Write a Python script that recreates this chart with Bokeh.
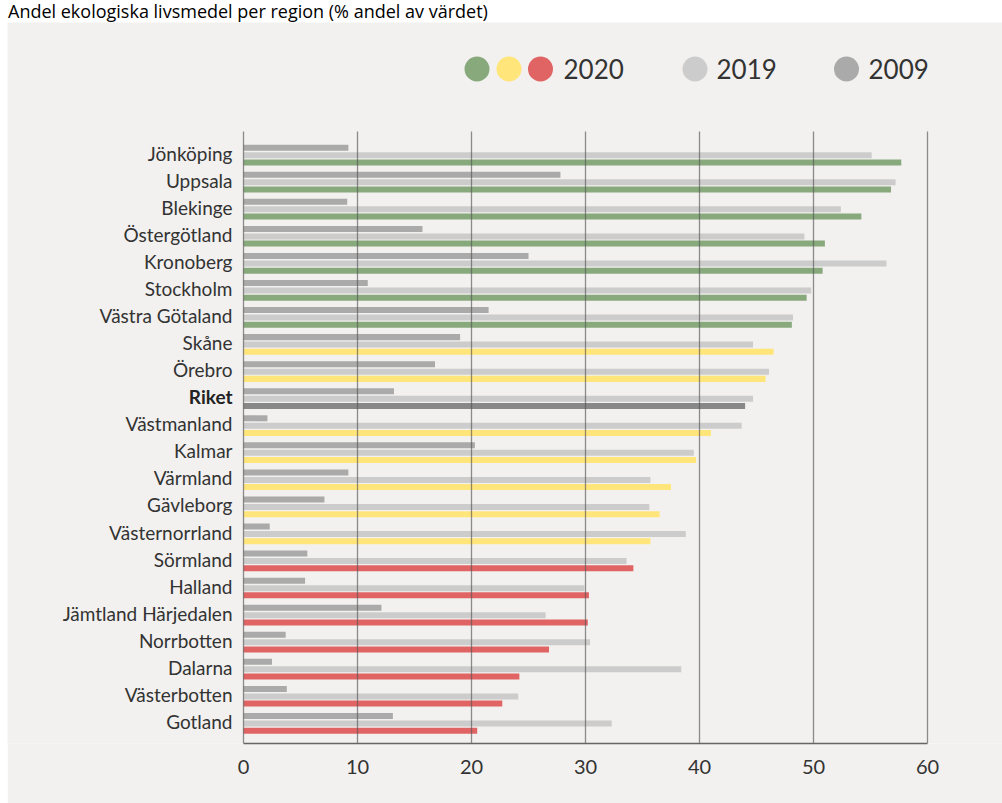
from bokeh.plotting import figure
from bokeh.layouts import column, row
from bokeh.models import ColumnDataSource, Range1d, FixedTicker, Div, Spacer
from bokeh.core.properties import value
from bokeh.embed import file_html
from bokeh.resources import INLINE

# ---------------- data ----------------
title_text = "Andel ekologiska livsmedel per region (% andel av värdet)"

regions = ["Jönköping", "Uppsala", "Blekinge", "Östergötland", "Kronoberg", "Stockholm",
           "Västra Götaland", "Skåne", "Örebro", "Riket", "Västmanland", "Kalmar", "Värmland",
           "Gävleborg", "Västernorrland", "Sörmland", "Halland", "Jämtland Härjedalen",
           "Norrbotten", "Dalarna", "Västerbotten", "Gotland"]

v2009 = [9.2, 27.8, 9.1, 15.7, 25.0, 10.9, 21.5, 19.0, 16.8, 13.2, 2.1, 20.3, 9.2, 7.1,
         2.3, 5.6, 5.4, 12.1, 3.7, 2.5, 3.8, 13.1]
v2019 = [55.1, 57.2, 52.4, 49.2, 56.4, 49.8, 48.2, 44.7, 46.1, 44.7, 43.7, 39.5, 35.7, 35.6,
         38.8, 33.6, 29.9, 26.5, 30.4, 38.4, 24.1, 32.3]
v2020 = [57.7, 56.8, 54.2, 51.0, 50.8, 49.4, 48.1, 46.5, 45.8, 44.0, 41.0, 39.7, 37.5, 36.5,
         35.7, 34.2, 30.3, 30.2, 26.8, 24.2, 22.7, 20.5]
tier2020 = ["grön"] * 7 + ["gul"] * 2 + ["riket"] + ["gul"] * 5 + ["röd"] * 7

x_ticks = [0, 10, 20, 30, 40, 50, 60]
legend_years = ["2020", "2019", "2009"]

# ---------------- styles ----------------
tier_colors = {"grön": "#88a97c", "gul": "#ffe57a", "röd": "#e06464", "riket": "#888888"}
c2009 = "#aaaaaa"
c2019 = "#cccccc"
panel = "#f2f1ef"
FONT = "Lato"
TXT = "#333333"

# ---------------- layout geometry (page pixels) ----------------
W, H = 1002, 803
TITLE_H = 22                 # white strip with the title
LEFT_W = 7                   # white strip left of the grey panel
FIG_W, FIG_H = W - LEFT_W, H - TITLE_H
ZERO_X = 243.0               # page x of value 0
PX_PER_UNIT = 11.4           # page px per percent unit
LABEL_RIGHT = 232.0          # page x where the region names end
LABEL_SHIFT_PX = -2.0        # region names sit slightly above the bar group centre
ROW0_Y = 154.7               # page y of first row centre
ROW_PX = 27.06               # page px between rows
GRID_TOP = 131.0             # page y where the gridlines start
AXIS_Y = 743.0               # page y of the x axis line


def xd(px):
    return (px - ZERO_X) / PX_PER_UNIT


def yd(py):
    return (py - ROW0_Y) / ROW_PX


p = figure(width=FIG_W, height=FIG_H, title=None,
           x_range=Range1d(xd(LEFT_W), xd(W)),
           y_range=Range1d(yd(AXIS_Y), yd(TITLE_H)),
           y_axis_location=None,
           output_backend="svg", toolbar_location=None,
           min_border_left=0, min_border_right=0,
           min_border_top=0, min_border_bottom=int(H - AXIS_Y),
           background_fill_color=panel, border_fill_color=panel, outline_line_color=None)

rows = list(range(len(regions)))
src = ColumnDataSource(dict(
    y2009=[r - 0.277 for r in rows], y2019=rows, y2020=[r + 0.266 for r in rows],
    v2009=v2009, v2019=v2019, v2020=v2020, c2020=[tier_colors[t] for t in tier2020]))

bh = 0.222
p.hbar(y="y2009", left=0, right="v2009", height=bh, fill_color=c2009, line_color=None, source=src)
p.hbar(y="y2019", left=0, right="v2019", height=bh, fill_color=c2019, line_color=None, source=src)
p.hbar(y="y2020", left=0, right="v2020", height=bh, fill_color="c2020", line_color=None, source=src)

# vertical gridlines, drawn over the bars
p.segment(x0=x_ticks, x1=x_ticks, y0=[yd(GRID_TOP)] * len(x_ticks),
          y1=[yd(AXIS_Y)] * len(x_ticks), line_color="#555555", line_alpha=0.65, line_width=1.3)
p.grid.visible = False

# x axis
p.xaxis.ticker = FixedTicker(ticks=x_ticks)
p.xaxis.bounds = (x_ticks[0], x_ticks[-1])
p.xaxis.axis_line_color = "#666666"
p.xaxis.axis_line_width = 1.5
p.xaxis.major_tick_line_color = None
p.xaxis.minor_tick_line_color = None
p.xaxis.major_label_text_font = FONT
p.xaxis.major_label_text_font_size = "20px"
p.xaxis.major_label_text_color = TXT
p.xaxis.major_label_standoff = 10

# region names (Riket in bold)
lab_src = ColumnDataSource(dict(
    x=[xd(LABEL_RIGHT)] * len(regions), y=[r + LABEL_SHIFT_PX / ROW_PX for r in rows],
    text=regions,
    style=["bold" if r == "Riket" else "normal" for r in regions],
    color=["#222222" if r == "Riket" else TXT for r in regions]))
p.text(x="x", y="y", text="text", source=lab_src, text_align="right", text_baseline="middle",
       text_font=value(FONT), text_font_size="19px", text_font_style="style",
       text_color="color")

# legend
legend_swatches = {"2020": [tier_colors["grön"], tier_colors["gul"], tier_colors["röd"]],
                   "2019": [c2019], "2009": [c2009]}
legend_circle_x = {"2020": [476.5, 508.5, 540.0], "2019": [694.5], "2009": [846.0]}
legend_text_x = {"2020": 563, "2019": 716, "2009": 868}
LEG_Y = 68.5
for yr in legend_years:
    xs = [xd(v) for v in legend_circle_x[yr]]
    p.scatter(x=xs, y=[yd(LEG_Y)] * len(xs), size=25, marker="circle",
              fill_color=legend_swatches[yr], line_color=None)
p.text(x=[xd(legend_text_x[yr]) for yr in legend_years], y=[yd(LEG_Y)] * len(legend_years),
       text=legend_years, text_align="left", text_baseline="middle",
       text_font=value(FONT), text_font_size="26px", text_color=TXT)

title = Div(text=f'<div style="padding-left:8px;white-space:nowrap;">{title_text}</div>',
            width=W, height=TITLE_H, margin=0,
            styles={"font-family": "Open Sans", "font-size": "18px", "line-height": f"{TITLE_H}px",
                    "color": "#000000"})

layout = column(title, row(Spacer(width=LEFT_W, height=FIG_H, margin=0), p, spacing=0), spacing=0)
open("out.html", "w").write(file_html(layout, INLINE, title="Andel ekologiska livsmedel per region"))
